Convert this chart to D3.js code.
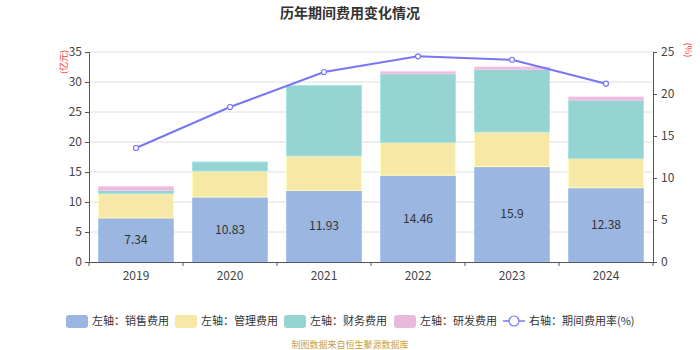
<!DOCTYPE html>
<html><head><meta charset="utf-8">
<script src="https://cdn.jsdelivr.net/npm/d3@7/dist/d3.min.js"></script>
<style>body{margin:0;background:#fff;} text{font-family:"Noto Sans CJK SC","Noto Sans",sans-serif;}</style>
</head><body><svg id="c" width="700" height="350"></svg>
<script>
const years = ["2019","2020","2021","2022","2023","2024"];
const sales = [7.34, 10.83, 11.93, 14.46, 15.9, 12.38];
const admin = [4.04, 4.34, 5.74, 5.47, 5.77, 4.89];
const finance = [0.55, 1.50, 11.76, 11.45, 10.43, 9.73];
const rnd = [0.62, 0, 0, 0.34, 0.40, 0.50];
const rate = [13.57, 18.45, 22.62, 24.48, 24.08, 21.23];
const leftTicks = [0,5,10,15,20,25,30,35];
const rightTicks = [0,5,10,15,20,25];
const seriesNames = ["左轴：销售费用","左轴：管理费用","左轴：财务费用","左轴：研发费用"];
const lineName = "右轴：期间费用率(%)";
const colors = ["#9ab6e1","#f8e8a8","#96d3d3","#e8b9da"];
const lineColor = "#7777f5";

const svg = d3.select("#c");
const L = 89, R = 653, T = 52, B = 262;
const x = d3.scaleBand().domain(years).range([L, R]).paddingInner(0.2).paddingOuter(0.1);
const yL = d3.scaleLinear().domain([0,35]).range([B,T]);
const yR = d3.scaleLinear().domain([0,25]).range([B,T]);

svg.append("text").attr("x",350).attr("y",18).attr("text-anchor","middle")
  .attr("font-size",14).attr("font-weight","bold").attr("fill","#333").text("历年期间费用变化情况");

// grid
svg.append("g").selectAll("line").data(leftTicks.slice(1)).join("line")
  .attr("x1",L).attr("x2",R).attr("y1",d=>yL(d)).attr("y2",d=>yL(d))
  .attr("stroke","#e0e0e0").attr("stroke-width",1);

// stacked bars
const series = [sales, admin, finance, rnd];
const bw = 75;
years.forEach((yr,i)=>{
  let acc = 0;
  series.forEach((s,k)=>{
    const v = s[i];
    if (v<=0) return;
    const y0 = yL(acc), y1 = yL(acc+v);
    const cx = x(yr)+x.bandwidth()/2;
    svg.append("rect").attr("x",cx-bw/2).attr("width",bw).attr("y",y1).attr("height",y0-y1)
      .attr("fill",colors[k]).attr("stroke",d3.color(colors[k]).brighter(0.25)).attr("stroke-width",1);
    acc += v;
  });
  svg.append("text").attr("x",x(yr)+x.bandwidth()/2).attr("y",yL(sales[i]/2)+4)
    .attr("text-anchor","middle").attr("font-size",12).attr("fill","#333").text(sales[i]);
});

// axes
const axL = svg.append("g").attr("transform",`translate(${L},0)`)
  .call(d3.axisLeft(yL).tickValues(leftTicks).tickSize(4).tickPadding(3));
const axR = svg.append("g").attr("transform",`translate(${R},0)`)
  .call(d3.axisRight(yR).tickValues(rightTicks).tickSize(4).tickPadding(4));
const xb = d3.scaleBand().domain(years).range([L,R]);
const axX = svg.append("g").attr("transform",`translate(0,${B})`)
  .call(d3.axisBottom(xb).tickSize(0).tickPadding(9));
axX.append("g").selectAll("line").data(d3.range(years.length+1)).join("line")
  .attr("x1",d=>L+d*xb.step()).attr("x2",d=>L+d*xb.step()).attr("y1",0).attr("y2",4).attr("stroke","#555");
[axL,axR,axX].forEach(a=>{
  a.selectAll("path").attr("stroke","#555");
  a.selectAll(".tick line").attr("stroke","#555");
  a.selectAll("text").attr("font-size",12).attr("fill","#444").attr("font-family","\"Noto Sans CJK SC\",sans-serif");
});

// units
svg.append("text").attr("transform","translate(67,62) rotate(-90)").attr("text-anchor","middle")
  .attr("font-size",9).attr("fill","#f33").text("(亿元)");
svg.append("text").attr("transform","translate(685,50) rotate(90)").attr("text-anchor","middle")
  .attr("font-size",9).attr("fill","#f33").text("(%)");

// line
const cxs = years.map(yr=>x(yr)+x.bandwidth()/2);
svg.append("path").datum(rate).attr("fill","none").attr("stroke",lineColor).attr("stroke-width",2)
  .attr("d",d3.line().x((d,i)=>cxs[i]).y(d=>yR(d)));
svg.append("g").selectAll("circle").data(rate).join("circle")
  .attr("cx",(d,i)=>cxs[i]).attr("cy",d=>yR(d)).attr("r",2.5)
  .attr("fill","#fff").attr("stroke",lineColor).attr("stroke-width",1.2);

// legend
const ly = 321;
const legendX = [66,175,284,394];
seriesNames.forEach((n,k)=>{
  svg.append("rect").attr("x",legendX[k]).attr("y",ly-6).attr("width",22).attr("height",13).attr("rx",3)
    .attr("fill",colors[k]);
  svg.append("text").attr("x",legendX[k]+26).attr("y",ly+4).attr("font-size",11).attr("fill","#333").text(n);
});
svg.append("line").attr("x1",503).attr("x2",525).attr("y1",ly).attr("y2",ly).attr("stroke",lineColor).attr("stroke-width",1.5);
svg.append("circle").attr("cx",514).attr("cy",ly).attr("r",5).attr("fill","#fff").attr("stroke",lineColor).attr("stroke-width",1.2);
svg.append("text").attr("x",529).attr("y",ly+4).attr("font-size",11).attr("fill","#333").text(lineName);

svg.append("text").attr("x",350).attr("y",348).attr("text-anchor","middle").attr("font-size",9)
  .attr("fill","#c9a040").text("制图数据来自恒生聚源数据库");
</script></body></html>
